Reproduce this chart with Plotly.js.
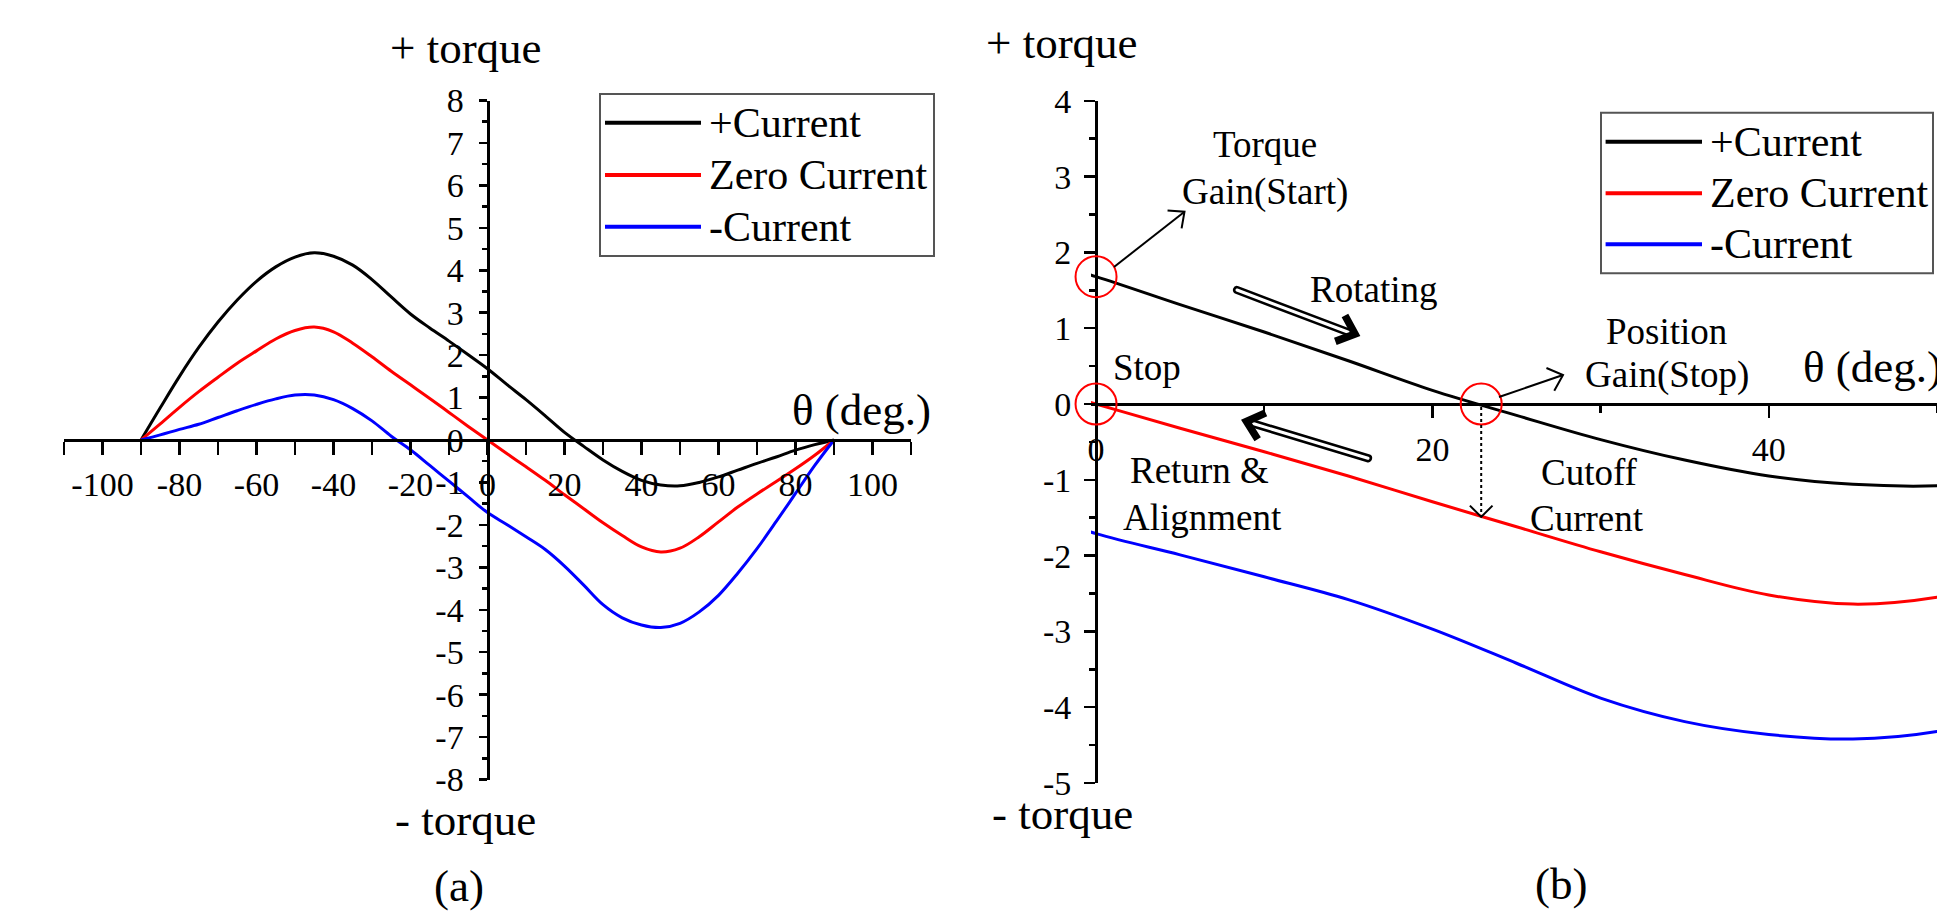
<!DOCTYPE html>
<html>
<head>
<meta charset="utf-8">
<script src="https://cdn.plot.ly/plotly-3.0.1.min.js"></script>
<style>
html,body{margin:0;padding:0;background:#fff;overflow:hidden}
#chart{width:1937px;height:912px}
</style>
</head>
<body>
<div id="chart"></div>
<script>
// ---------- data ----------
const theta = [-90,-85,-80,-75,-70,-65,-60,-55,-50,-45,-40,-35,-30,-25,-20,-15,-10,-5,0,5,10,15,20,25,30,35,40,45,50,55,60,65,70,75,80,85,90];
const plusCurrent  = [0,0.76,1.50,2.18,2.78,3.30,3.74,4.08,4.31,4.41,4.33,4.12,3.78,3.37,2.97,2.64,2.33,2.01,1.68,1.31,0.95,0.57,0.18,-0.15,-0.47,-0.74,-0.95,-1.06,-1.08,-1.00,-0.87,-0.71,-0.55,-0.40,-0.24,-0.11,0];
const zeroCurrent  = [0,0.38,0.77,1.14,1.48,1.81,2.10,2.38,2.58,2.66,2.55,2.28,1.96,1.62,1.30,0.98,0.65,0.32,0,-0.32,-0.63,-0.95,-1.29,-1.62,-1.95,-2.25,-2.52,-2.64,-2.55,-2.28,-1.93,-1.58,-1.27,-0.98,-0.68,-0.36,0];
const minusCurrent = [0,0.12,0.25,0.37,0.53,0.69,0.84,0.97,1.06,1.06,0.95,0.74,0.45,0.09,-0.23,-0.60,-0.97,-1.34,-1.71,-1.99,-2.28,-2.58,-2.97,-3.42,-3.88,-4.19,-4.36,-4.42,-4.32,-4.05,-3.66,-3.14,-2.56,-1.92,-1.26,-0.60,0];
const seriesNames  = ['+Current','Zero Current','-Current'];
const seriesColors = ['#000000','#ff0000','#0000ff'];

const xTickValsA = [-100,-80,-60,-40,-20,0,20,40,60,80,100];
const xTickTextA = ['-100','-80','-60','-40','-20','0','20','40','60','80','100'];
const yTickValsA = [-8,-7,-6,-5,-4,-3,-2,-1,0,1,2,3,4,5,6,7,8];
const yTickTextA = ['-8','-7','-6','-5','-4','-3','-2','-1','0','1','2','3','4','5','6','7','8'];
const xTickValsB = [0,20,40];
const xTickTextB = ['0','20','40'];
const yTickValsB = [-5,-4,-3,-2,-1,0,1,2,3,4];
const yTickTextB = ['-5','-4','-3','-2','-1','0','1','2','3','4'];

// marked points in panel (b)
const startAngle = 0;            // torque gain (start) / stop
const cutoffAngle = 22.9;        // +Current crosses zero
const cutoffZeroTorque = -1.49;  // Zero Current torque at the cutoff angle

// ---------- layout helpers ----------
const W = 1937, H = 912;
const FONT = 'Liberation Serif, "Times New Roman", Times, serif';
const X = px => px / W;
const Y = py => 1 - py / H;
const P = (px, py) => X(px).toFixed(5) + ',' + Y(py).toFixed(5);

const data = [];
const series = [plusCurrent, zeroCurrent, minusCurrent];
[['x','y'],['x2','y2']].forEach(([xa, ya]) => {
  series.forEach((s, i) => {
    data.push({
      x: theta, y: s, xaxis: xa, yaxis: ya, type: 'scatter', mode: 'lines',
      name: seriesNames[i], showlegend: false, hoverinfo: 'skip',
      line: {color: seriesColors[i], width: 3, shape: 'spline', smoothing: 1}
    });
  });
});

const axBase = {
  showgrid: false, zeroline: false, showline: true, linecolor: '#000', linewidth: 3,
  ticks: 'outside', tickcolor: '#000', tickwidth: 2.5, tickmode: 'array',
  tickfont: {family: FONT, size: 34, color: '#000'}, fixedrange: true, anchor: 'free'
};

// panel (a) geometry (pixels)
const aLeft = 64, aRight = 911, aTop = 100.5, aBottom = 779.5;
// panel (b) geometry (pixels)
const bLeft = 1091, bTop = 100.8, bBottom = 783;
const bXmin = -0.3, bXmax = 50;
const bPxPerDeg = (W - bLeft) / (bXmax - bXmin);
const bPxPerUnit = (bBottom - bTop) / 9;
const bZeroX = bLeft + (0 - bXmin) * bPxPerDeg;
const bZeroY = bTop + 4 * bPxPerUnit;
const bx = v => bZeroX + v * bPxPerDeg;
const by = v => bZeroY - v * bPxPerUnit;

const layout = {
  width: W, height: H, margin: {l: 0, r: 0, t: 0, b: 0, pad: 0},
  paper_bgcolor: '#fff', plot_bgcolor: 'rgba(0,0,0,0)', showlegend: false,
  xaxis: Object.assign({}, axBase, {
    domain: [X(aLeft), X(aRight)], range: [-110, 110], position: Y((aTop + aBottom) / 2),
    tickvals: xTickValsA, ticktext: xTickTextA, ticklen: 13, ticklabelstandoff: 0,
    minor: {ticks: 'outside', dtick: 10, tick0: 0, ticklen: 13, tickwidth: 2.5, tickcolor: '#000'}
  }),
  yaxis: Object.assign({}, axBase, {
    domain: [Y(aBottom), Y(aTop)], range: [-8, 8], position: X((aLeft + aRight) / 2),
    tickvals: yTickValsA, ticktext: yTickTextA, ticklen: 8, ticklabelstandoff: 8,
    minor: {ticks: 'outside', dtick: 0.5, tick0: 0, ticklen: 5, tickwidth: 2.5, tickcolor: '#000'}
  }),
  xaxis2: Object.assign({}, axBase, {
    domain: [X(bLeft), 1], range: [bXmin, bXmax], position: Y(bZeroY),
    tickvals: xTickValsB, ticktext: xTickTextB, ticklen: 12, ticklabelstandoff: 2,
    minor: {ticks: 'outside', dtick: 10, tick0: 0, ticklen: 7, tickwidth: 2.5, tickcolor: '#000'}
  }),
  yaxis2: Object.assign({}, axBase, {
    domain: [Y(bBottom), Y(bTop)], range: [-5, 4], position: X(bZeroX),
    tickvals: yTickValsB, ticktext: yTickTextB, ticklen: 11, ticklabelstandoff: 6,
    minor: {ticks: 'outside', dtick: 0.5, tick0: 0, ticklen: 6, tickwidth: 2.5, tickcolor: '#000'}
  }),
  shapes: [], annotations: []
};

function txt(text, px, py, size, xanchor) {
  layout.annotations.push({
    text: text, x: X(px), y: Y(py), xref: 'paper', yref: 'paper',
    xanchor: xanchor || 'center', yanchor: 'middle', showarrow: false,
    font: {family: FONT, size: size, color: '#000'}
  });
}
function line(x0, y0, x1, y1, color, width, dash) {
  layout.shapes.push({type: 'line', xref: 'paper', yref: 'paper',
    x0: X(x0), y0: Y(y0), x1: X(x1), y1: Y(y1),
    line: {color: color, width: width, dash: dash || 'solid'}});
}
function head(x0, y0, x1, y1, len, angDeg, width) {
  const a = Math.atan2(y0 - y1, x0 - x1), d = angDeg * Math.PI / 180;
  const p1 = [x1 + len * Math.cos(a + d), y1 + len * Math.sin(a + d)];
  const p2 = [x1 + len * Math.cos(a - d), y1 + len * Math.sin(a - d)];
  layout.shapes.push({type: 'path', xref: 'paper', yref: 'paper',
    path: 'M' + P(p1[0], p1[1]) + 'L' + P(x1, y1) + 'L' + P(p2[0], p2[1]),
    line: {color: '#000', width: width}, fillcolor: 'rgba(0,0,0,0)'});
}
function arrow(x0, y0, x1, y1, len, ang, width, dash) {
  line(x0, y0, x1, y1, '#000', width, dash);
  head(x0, y0, x1, y1, len, ang, width);
}
function hollowArrow(x0, y0, x1, y1, tipX, tipY) {
  const h = 2.8, dx = x1 - x0, dy = y1 - y0, L = Math.hypot(dx, dy);
  const ux = dx / L, uy = dy / L, nx = -uy, ny = ux, k = h * 1.333;
  const A = [x0 + nx * h, y0 + ny * h], B = [x1 + nx * h, y1 + ny * h];
  const C = [x1 - nx * h, y1 - ny * h], D = [x0 - nx * h, y0 - ny * h];
  const path = 'M' + P(A[0], A[1]) + 'L' + P(B[0], B[1]) +
    'C' + P(B[0] + ux * k, B[1] + uy * k) + ' ' + P(C[0] + ux * k, C[1] + uy * k) + ' ' + P(C[0], C[1]) +
    'L' + P(D[0], D[1]) +
    'C' + P(D[0] - ux * k, D[1] - uy * k) + ' ' + P(A[0] - ux * k, A[1] - uy * k) + ' ' + P(A[0], A[1]) + 'Z';
  layout.shapes.push({type: 'path', xref: 'paper', yref: 'paper', path: path,
    line: {color: '#000', width: 2.6}, fillcolor: '#fff'});
  head(x0, y0, tipX, tipY, 21, 41, 7.5);
}

// ---------- panel (a) texts ----------
txt('+ torque', 465.5, 48, 45);
txt('- torque', 465, 820, 45);
txt('(a)', 459, 886, 45);
txt('\u03B8 (deg.)', 790, 410, 45, 'left');

// ---------- panel (b) texts ----------
txt('+ torque', 1062, 43, 45);
txt('- torque', 1062, 814, 45);
txt('(b)', 1561, 884, 45);
txt('\u03B8 (deg.)', 1801, 367, 45, 'left');

txt('Torque', 1265, 145, 37);
txt('Gain(Start)', 1265, 192, 37);
txt('Rotating', 1373, 289, 37);
txt('Stop', 1147, 367, 37);
txt('Position', 1666, 331, 37);
txt('Gain(Stop)', 1667, 375.5, 37);
txt('Return &amp;', 1199, 470, 37);
txt('Alignment', 1202, 517, 37);
txt('Cutoff', 1589, 472, 37);
txt('Current', 1587, 518.5, 37);

// ---------- legends (drawn from series names / colours) ----------
function legend(left, top, right, bottom, lineX0, lineX1, textX, rows) {
  layout.shapes.push({type: 'rect', xref: 'paper', yref: 'paper',
    x0: X(left), x1: X(right), y0: Y(bottom), y1: Y(top),
    line: {color: '#555', width: 2}, fillcolor: 'rgba(255,255,255,0)'});
  seriesNames.forEach((n, i) => {
    line(lineX0, rows[i], lineX1, rows[i], seriesColors[i], 4);
    txt(n, textX, rows[i], 42, 'left');
  });
}
legend(600, 94, 934, 256, 605, 701, 707, [122.7, 175, 226.7]);
legend(1601, 112.7, 1933, 273.3, 1605.6, 1702, 1708, [141.7, 193.3, 244.3]);

// ---------- panel (b) markers (red circles at data points) ----------
const startIdx = theta.indexOf(startAngle);
[[startAngle, plusCurrent[startIdx]], [startAngle, zeroCurrent[startIdx]], [cutoffAngle, 0]].forEach(([cx, cy]) => {
  const px = bx(cx), py = by(cy), r = 20.5;
  layout.shapes.push({type: 'circle', xref: 'paper', yref: 'paper',
    x0: X(px - r), x1: X(px + r), y0: Y(py + r), y1: Y(py - r),
    line: {color: '#ff0000', width: 2}, fillcolor: 'rgba(0,0,0,0)'});
});

// arrows
arrow(1114, 267, 1184.5, 211.7, 17, 42, 2);
arrow(1499, 397, 1563, 375, 18, 42, 2);
const cutX = bx(cutoffAngle), cutY = by(cutoffZeroTorque);
line(cutX, bZeroY + 3, cutX, cutY, '#000', 2, 'dot');
head(cutX, bZeroY, cutX, cutY, 16, 45, 2);
hollowArrow(1237, 290, 1349, 332.5, 1355, 334);
hollowArrow(1368, 458.3, 1253, 423.5, 1246.5, 421.5);

Plotly.newPlot('chart', data, layout, {displayModeBar: false, staticPlot: true});
</script>
</body>
</html>
